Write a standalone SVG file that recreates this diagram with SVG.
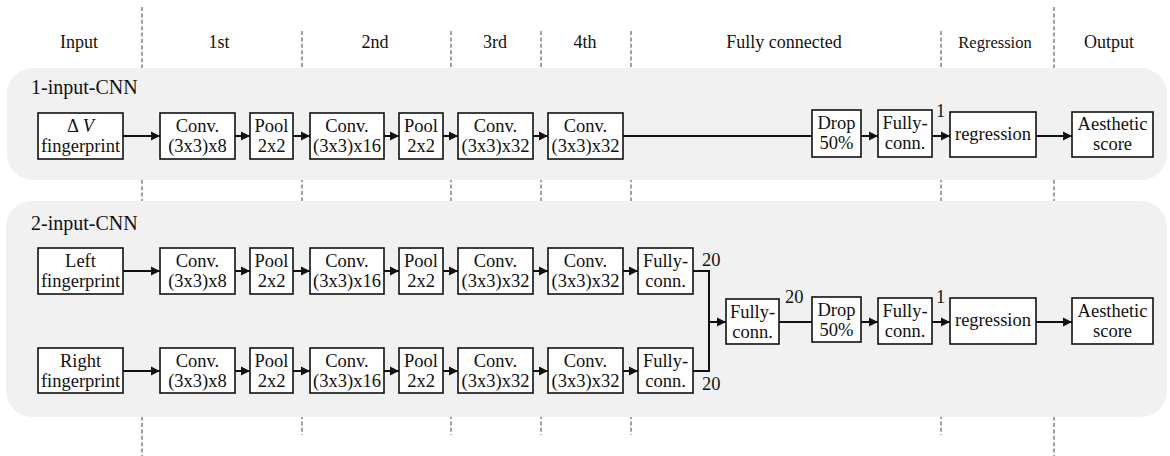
<svg xmlns="http://www.w3.org/2000/svg" width="1170" height="456" viewBox="0 0 1170 456">
<style>
.dash{stroke:#555;stroke-width:1.1;stroke-dasharray:4 2.4;fill:none}
.panel{fill:#f1f1f1}
.box{fill:#fff;stroke:#111;stroke-width:1.6}
.t{font-family:"Liberation Serif","Times New Roman",serif;font-size:18.5px;fill:#111;text-anchor:middle}
.h{font-family:"Liberation Serif","Times New Roman",serif;font-size:18px;fill:#111;text-anchor:middle}
.pl{font-family:"Liberation Serif","Times New Roman",serif;font-size:20px;fill:#111}
.lab{font-family:"Liberation Serif","Times New Roman",serif;font-size:18.5px;fill:#111}
.c{stroke:#111;stroke-width:2;fill:none}
.a{marker-end:url(#arr)}
</style>
<defs>
<marker id="arr" markerUnits="userSpaceOnUse" markerWidth="9" markerHeight="10" refX="9" refY="5" orient="auto">
<path d="M0,0.5 L9,5 L0,9.5 z" fill="#111"/>
</marker>
</defs>
<g id="guides">
<line class="dash" x1="142" y1="7" x2="142" y2="456"/>
<line class="dash" x1="302" y1="31" x2="302" y2="435"/>
<line class="dash" x1="451" y1="31" x2="451" y2="435"/>
<line class="dash" x1="541" y1="31" x2="541" y2="435"/>
<line class="dash" x1="631" y1="31" x2="631" y2="435"/>
<line class="dash" x1="941" y1="31" x2="941" y2="435"/>
<line class="dash" x1="1054" y1="7" x2="1054" y2="456"/>
</g>
<g id="headers">
<text class="h" x="79" y="48">Input</text>
<text class="h" x="219" y="48">1st</text>
<text class="h" x="375" y="48">2nd</text>
<text class="h" x="495" y="48">3rd</text>
<text class="h" x="585" y="48">4th</text>
<text class="h" x="784" y="48">Fully connected</text>
<text class="h" x="995" y="48" style="font-size:16.5px">Regression</text>
<text class="h" x="1109" y="48">Output</text>
</g>
<g id="panel1">
<rect class="panel" x="7" y="68" width="1160" height="112" rx="26"/>
<text class="pl" x="31" y="93.5">1-input-CNN</text>
</g>
<g id="panel2">
<rect class="panel" x="6" y="201" width="1161" height="216" rx="26"/>
<text class="pl" x="31" y="229.5">2-input-CNN</text>
</g>
<g id="connectors">
<!-- top -->
<line class="c a" x1="123" y1="136" x2="160" y2="136"/>
<line class="c a" x1="235" y1="136" x2="250" y2="136"/>
<line class="c a" x1="293" y1="136" x2="310" y2="136"/>
<line class="c a" x1="384" y1="136" x2="399" y2="136"/>
<line class="c a" x1="443" y1="136" x2="458" y2="136"/>
<line class="c a" x1="533" y1="136" x2="548" y2="136"/>
<line class="c" x1="623" y1="136" x2="812" y2="136"/>
<line class="c a" x1="861" y1="136" x2="878" y2="136"/>
<line class="c a" x1="932" y1="136" x2="950" y2="136"/>
<line class="c a" x1="1036" y1="136" x2="1072" y2="136"/>
<!-- row 1 -->
<line class="c a" x1="123" y1="271" x2="160" y2="271"/>
<line class="c a" x1="235" y1="271" x2="250" y2="271"/>
<line class="c a" x1="293" y1="271" x2="310" y2="271"/>
<line class="c a" x1="384" y1="271" x2="399" y2="271"/>
<line class="c a" x1="443" y1="271" x2="458" y2="271"/>
<line class="c a" x1="533" y1="271" x2="548" y2="271"/>
<line class="c a" x1="623" y1="271" x2="638" y2="271"/>
<!-- row 2 -->
<line class="c a" x1="123" y1="371" x2="160" y2="371"/>
<line class="c a" x1="235" y1="371" x2="250" y2="371"/>
<line class="c a" x1="293" y1="371" x2="310" y2="371"/>
<line class="c a" x1="384" y1="371" x2="399" y2="371"/>
<line class="c a" x1="443" y1="371" x2="458" y2="371"/>
<line class="c a" x1="533" y1="371" x2="548" y2="371"/>
<line class="c a" x1="623" y1="371" x2="638" y2="371"/>
<!-- merge -->
<polyline class="c" points="693,271 709,271 709,371 693,371"/>
<line class="c a" x1="709" y1="322" x2="726" y2="322"/>
<line class="c" x1="779" y1="322" x2="812" y2="322"/>
<line class="c a" x1="861" y1="322" x2="878" y2="322"/>
<line class="c a" x1="932" y1="322" x2="950" y2="322"/>
<line class="c a" x1="1036" y1="322" x2="1072" y2="322"/>
<text class="lab" x="936" y="117">1</text>
<text class="lab" x="702" y="266">20</text>
<text class="lab" x="702" y="390">20</text>
<text class="lab" x="785" y="303">20</text>
<text class="lab" x="936" y="303">1</text>
</g>
<!-- top row nodes -->
<g id="n_dv"><rect class="box" x="38" y="113" width="85" height="46"/><text class="t" x="80.5" y="132">Δ<tspan font-style="italic" dx="4">V</tspan></text><text class="t" x="80.5" y="152">fingerprint</text></g>
<g id="n1_c1"><rect class="box" x="160" y="113" width="75" height="46"/><text class="t" x="197.5" y="132">Conv.</text><text class="t" x="197.5" y="152">(3x3)x8</text></g>
<g id="n1_p1"><rect class="box" x="250" y="113" width="43" height="46"/><text class="t" x="271.5" y="132">Pool</text><text class="t" x="271.5" y="152">2x2</text></g>
<g id="n1_c2"><rect class="box" x="310" y="113" width="74" height="46"/><text class="t" x="347" y="132">Conv.</text><text class="t" x="347" y="152">(3x3)x16</text></g>
<g id="n1_p2"><rect class="box" x="399" y="113" width="44" height="46"/><text class="t" x="421" y="132">Pool</text><text class="t" x="421" y="152">2x2</text></g>
<g id="n1_c3"><rect class="box" x="458" y="113" width="75" height="46"/><text class="t" x="495.5" y="132">Conv.</text><text class="t" x="495.5" y="152">(3x3)x32</text></g>
<g id="n1_c4"><rect class="box" x="548" y="113" width="75" height="46"/><text class="t" x="585.5" y="132">Conv.</text><text class="t" x="585.5" y="152">(3x3)x32</text></g>
<g id="n1_drop"><rect class="box" x="812" y="110" width="49" height="47"/><text class="t" x="836.5" y="129">Drop</text><text class="t" x="836.5" y="149">50%</text></g>
<g id="n1_fc"><rect class="box" x="878" y="110" width="54" height="47"/><text class="t" x="905" y="129">Fully-</text><text class="t" x="905" y="149">conn.</text></g>
<g id="n1_reg"><rect class="box" x="950" y="112" width="86" height="45"/><text class="t" x="993" y="140">regression</text></g>
<g id="n1_out"><rect class="box" x="1072" y="112" width="81" height="45"/><text class="t" x="1112.5" y="130">Aesthetic</text><text class="t" x="1112.5" y="150">score</text></g>
<!-- row 1 nodes -->
<g id="n2_left"><rect class="box" x="38" y="248" width="85" height="46"/><text class="t" x="80.5" y="267">Left</text><text class="t" x="80.5" y="287">fingerprint</text></g>
<g id="n2a_c1"><rect class="box" x="160" y="248" width="75" height="46"/><text class="t" x="197.5" y="267">Conv.</text><text class="t" x="197.5" y="287">(3x3)x8</text></g>
<g id="n2a_p1"><rect class="box" x="250" y="248" width="43" height="46"/><text class="t" x="271.5" y="267">Pool</text><text class="t" x="271.5" y="287">2x2</text></g>
<g id="n2a_c2"><rect class="box" x="310" y="248" width="74" height="46"/><text class="t" x="347" y="267">Conv.</text><text class="t" x="347" y="287">(3x3)x16</text></g>
<g id="n2a_p2"><rect class="box" x="399" y="248" width="44" height="46"/><text class="t" x="421" y="267">Pool</text><text class="t" x="421" y="287">2x2</text></g>
<g id="n2a_c3"><rect class="box" x="458" y="248" width="75" height="46"/><text class="t" x="495.5" y="267">Conv.</text><text class="t" x="495.5" y="287">(3x3)x32</text></g>
<g id="n2a_c4"><rect class="box" x="548" y="248" width="75" height="46"/><text class="t" x="585.5" y="267">Conv.</text><text class="t" x="585.5" y="287">(3x3)x32</text></g>
<g id="n2a_fc"><rect class="box" x="638" y="248" width="55" height="46"/><text class="t" x="665.5" y="267">Fully-</text><text class="t" x="665.5" y="287">conn.</text></g>
<!-- row 2 nodes -->
<g id="n2_right"><rect class="box" x="38" y="348" width="85" height="45"/><text class="t" x="80.5" y="367">Right</text><text class="t" x="80.5" y="387">fingerprint</text></g>
<g id="n2b_c1"><rect class="box" x="160" y="348" width="75" height="45"/><text class="t" x="197.5" y="367">Conv.</text><text class="t" x="197.5" y="387">(3x3)x8</text></g>
<g id="n2b_p1"><rect class="box" x="250" y="348" width="43" height="45"/><text class="t" x="271.5" y="367">Pool</text><text class="t" x="271.5" y="387">2x2</text></g>
<g id="n2b_c2"><rect class="box" x="310" y="348" width="74" height="45"/><text class="t" x="347" y="367">Conv.</text><text class="t" x="347" y="387">(3x3)x16</text></g>
<g id="n2b_p2"><rect class="box" x="399" y="348" width="44" height="45"/><text class="t" x="421" y="367">Pool</text><text class="t" x="421" y="387">2x2</text></g>
<g id="n2b_c3"><rect class="box" x="458" y="348" width="75" height="45"/><text class="t" x="495.5" y="367">Conv.</text><text class="t" x="495.5" y="387">(3x3)x32</text></g>
<g id="n2b_c4"><rect class="box" x="548" y="348" width="75" height="45"/><text class="t" x="585.5" y="367">Conv.</text><text class="t" x="585.5" y="387">(3x3)x32</text></g>
<g id="n2b_fc"><rect class="box" x="638" y="348" width="55" height="45"/><text class="t" x="665.5" y="367">Fully-</text><text class="t" x="665.5" y="387">conn.</text></g>
<!-- merged nodes -->
<g id="n2_fc2"><rect class="box" x="726" y="299" width="53" height="45"/><text class="t" x="752.5" y="318">Fully-</text><text class="t" x="752.5" y="338">conn.</text></g>
<g id="n2_drop"><rect class="box" x="812" y="297" width="49" height="45"/><text class="t" x="836.5" y="316">Drop</text><text class="t" x="836.5" y="336">50%</text></g>
<g id="n2_fc3"><rect class="box" x="878" y="298" width="54" height="46"/><text class="t" x="905" y="317">Fully-</text><text class="t" x="905" y="337">conn.</text></g>
<g id="n2_reg"><rect class="box" x="950" y="298" width="86" height="46"/><text class="t" x="993" y="326">regression</text></g>
<g id="n2_out"><rect class="box" x="1072" y="298" width="81" height="46"/><text class="t" x="1112.5" y="317">Aesthetic</text><text class="t" x="1112.5" y="337">score</text></g>
</svg>
